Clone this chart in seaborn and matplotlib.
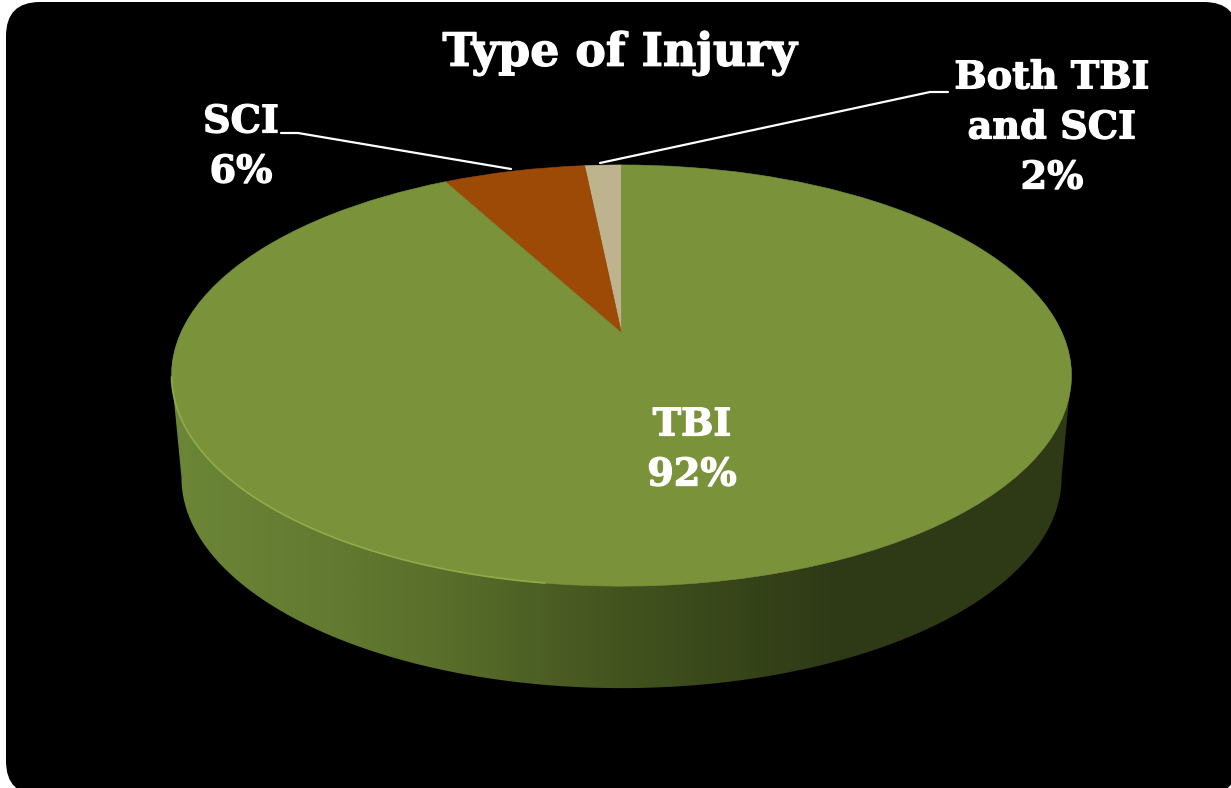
import numpy as np
import matplotlib
matplotlib.use("Agg")
import matplotlib.pyplot as plt
import matplotlib.patheffects as pe
import seaborn as sns
from matplotlib.colors import LinearSegmentedColormap
from matplotlib.patches import FancyBboxPatch, PathPatch
from matplotlib.path import Path
from matplotlib.transforms import Transform

# Data (pie order is counter-clockwise from 12 o'clock)
categories = ["Both TBI\nand SCI", "SCI", "TBI"]
shares = [1.6, 6.2, 92.2]
slice_colors = ["#BDB48E", "#9C4A06", "#7A933B"]
title_text = "Type of Injury"

# Geometry of the tilted disc, in figure pixels
APEX = (621.5, 333.0)
PERSP_K, PERSP_A, PERSP_B = 0.202, 202.0, 440.7
DEPTH, BASE_SCALE = 102.0, 0.978

sns.set_theme(style="white")
plt.rcParams["font.family"] = ["DejaVu Serif"]


class Tilt(Transform):
    input_dims = output_dims = 2

    def __init__(self, drop=0.0, sx=1.0):
        super().__init__()
        self.drop, self.sx = drop, sx

    def transform_non_affine(self, v):
        v = np.asarray(v, float)
        d = 1 + PERSP_K * v[:, 1]
        return np.column_stack([
            APEX[0] + self.sx * PERSP_B * v[:, 0] / d,
            APEX[1] - PERSP_A * v[:, 1] / d + self.drop,
        ])


fig = plt.figure(figsize=(12.31, 7.88), dpi=100, facecolor="white")
ax = fig.add_axes([0, 0, 1, 1])

# Rounded black panel
panel = FancyBboxPatch((6, 2), 1232, 793, boxstyle="round,pad=0,rounding_size=34",
                       fc="black", ec="none", zorder=0)
ax.add_patch(panel)

# Side wall with a left-to-right shading
t = np.linspace(0, 2 * np.pi, 721)
unit = np.column_stack([np.cos(t), np.sin(t)])
top = Tilt().transform_non_affine(unit)
base = Tilt(DEPTH, BASE_SCALE).transform_non_affine(unit)
upper_top = top[top[:, 1] <= top[np.argmin(top[:, 0]), 1]]
upper_top = upper_top[np.argsort(-upper_top[:, 0])]
lower_base = base[base[:, 1] >= base[np.argmin(base[:, 0]), 1]]
lower_base = lower_base[np.argsort(lower_base[:, 0])]
wall_outline = np.vstack([lower_base, upper_top, lower_base[:1]])
wall_cmap = LinearSegmentedColormap.from_list("wall", [
    (0.00, "#6C8637"), (0.18, "#627A31"), (0.31, "#586D2A"), (0.43, "#4A5C23"),
    (0.58, "#3B4A1B"), (0.73, "#2F3B16"), (1.00, "#2E3915")])
wall = ax.imshow(np.linspace(0, 1, 600)[None, :], cmap=wall_cmap, aspect="auto",
                 extent=(top[:, 0].min(), top[:, 0].max(), 700, 300), zorder=1)
clip = PathPatch(Path(wall_outline), transform=ax.transData, fc="none", ec="none")
ax.add_patch(clip)
wall.set_clip_path(clip)

# Top face
wedges, _ = ax.pie(shares, colors=slice_colors, startangle=90, counterclock=True,
                   wedgeprops={"linewidth": 0.4})
for w, c in zip(wedges, slice_colors):
    w.set_edgecolor(c)
    w.set_transform(Tilt() + ax.transData)
    w.set_zorder(2)

# Light rim on the lower-left edge
rim_t = np.radians(np.linspace(192, 262, 200))
ax.plot(np.cos(rim_t), np.sin(rim_t), color="#93B34C", lw=1.2, alpha=0.85,
        transform=Tilt() + ax.transData, zorder=3)

ax.set_aspect("auto")
ax.set_xlim(0, 1231)
ax.set_ylim(788, 0)
ax.set_frame_on(True)
ax.set_facecolor("white")
for s in ax.spines.values():
    s.set_visible(False)
ax.set_xticks([])
ax.set_yticks([])

# Text
FS = 27.5
bolder = [pe.withStroke(linewidth=0.9, foreground="white")]
txt = dict(color="white", fontweight="bold", ha="center", va="center", zorder=5,
           fontsize=FS, linespacing=1.45, path_effects=bolder)
ax.text(620, 53, title_text, **{**txt, "fontsize": 33})
label_xy = [(1052, 128), (241, 147), (692, 450)]
for cat, share, (x, y) in zip(categories, shares, label_xy):
    ax.text(x, y, f"{cat}\n{share:.0f}%", **txt)

# Leader lines
ax.plot([281, 298, 511], [133, 133, 169], color="white", lw=1.6, zorder=4)
ax.plot([948, 930, 600], [92, 92, 163], color="white", lw=1.6, zorder=4)

fig.savefig("out.png", dpi=100, facecolor="white")
